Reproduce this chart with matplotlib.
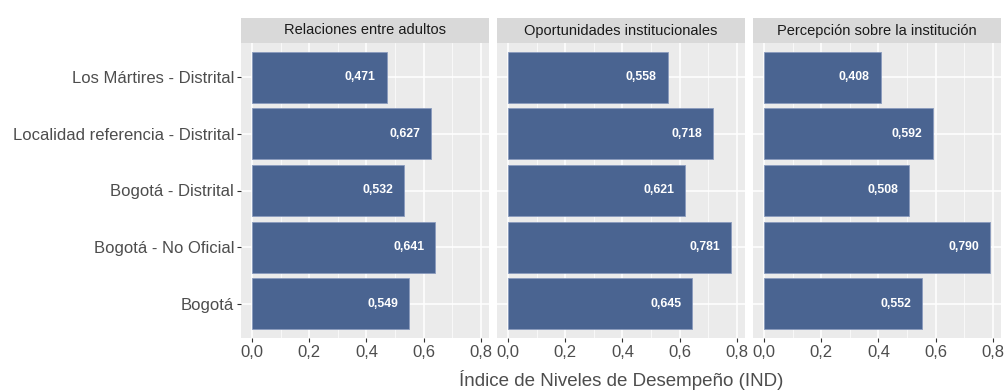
import matplotlib.pyplot as plt
from matplotlib.ticker import FixedLocator

plt.rcParams["font.family"] = ["Liberation Sans", "DejaVu Sans"]

categories = [
    "Los Mártires - Distrital",
    "Localidad referencia - Distrital",
    "Bogotá - Distrital",
    "Bogotá - No Oficial",
    "Bogotá",
]
facets = [
    "Relaciones entre adultos",
    "Oportunidades institucionales",
    "Percepción sobre la institución",
]
relaciones = [0.471, 0.627, 0.532, 0.641, 0.549]
oportunidades = [0.558, 0.718, 0.621, 0.781, 0.645]
percepcion = [0.408, 0.592, 0.508, 0.790, 0.552]
series = [relaciones, oportunidades, percepcion]
x_ticks = [0.0, 0.2, 0.4, 0.6, 0.8]
x_tick_labels = ["0,0", "0,2", "0,4", "0,6", "0,8"]

bar_color = "#4a6491"
W, H = 1007, 390
fig = plt.figure(figsize=(W / 100, H / 100), dpi=100)

left0 = 241
pw = 248
gap = 8
top = 43
bottom = 338
strip_h = 25

vmax = max(max(s) for s in series)
xlim = (-0.05 * vmax, vmax * 1.05)
ypos = list(range(len(categories), 0, -1))

for i, (name, vals) in enumerate(zip(facets, series)):
    x0 = left0 + i * (pw + gap)
    ax = fig.add_axes([x0 / W, 1 - bottom / H, pw / W, (bottom - top) / H])
    ax.set_facecolor("#ebebeb")
    ax.barh(ypos, vals, height=0.9, color=bar_color, edgecolor="#8a9bbd",
            linewidth=0.6, zorder=3)
    for y, v in zip(ypos, vals):
        ax.text(v - 0.038, y, f"{v:.3f}".replace(".", ","), ha="right",
                va="center", color="white", fontsize=8.8, fontweight="bold",
                zorder=4)
    ax.set_xlim(*xlim)
    ax.set_ylim(0.4, len(categories) + 0.6)
    ax.xaxis.set_major_locator(FixedLocator(x_ticks))
    ax.xaxis.set_minor_locator(FixedLocator([0.1, 0.3, 0.5, 0.7]))
    ax.set_xticklabels(x_tick_labels)
    ax.set_yticks(ypos)
    if i == 0:
        ax.set_yticklabels(categories)
    else:
        ax.tick_params(axis="y", left=False, labelleft=False)
    ax.grid(which="major", color="white", linewidth=1.1, zorder=0)
    ax.grid(which="minor", axis="x", color="white", linewidth=0.5, zorder=0)
    ax.set_axisbelow(True)
    ax.tick_params(which="major", length=3, width=0.8, color="#333333",
                   labelsize=12, labelcolor="#4d4d4d", pad=2)
    ax.tick_params(which="minor", length=0)
    for sp in ax.spines.values():
        sp.set_visible(False)

    sax = fig.add_axes([x0 / W, 1 - top / H, pw / W, strip_h / H])
    sax.set_facecolor("#d9d9d9")
    sax.set_xticks([])
    sax.set_yticks([])
    for sp in sax.spines.values():
        sp.set_visible(False)
    sax.text(0.5, 0.5, name, ha="center", va="center", fontsize=10.5,
             color="#1a1a1a", transform=sax.transAxes)

fig.text((left0 + (3 * pw + 2 * gap) / 2) / W, 1 - 380 / H,
         "Índice de Niveles de Desempeño (IND)", ha="center", va="center",
         fontsize=13.5, color="#4d4d4d")

fig.savefig("out.png", dpi=100)
